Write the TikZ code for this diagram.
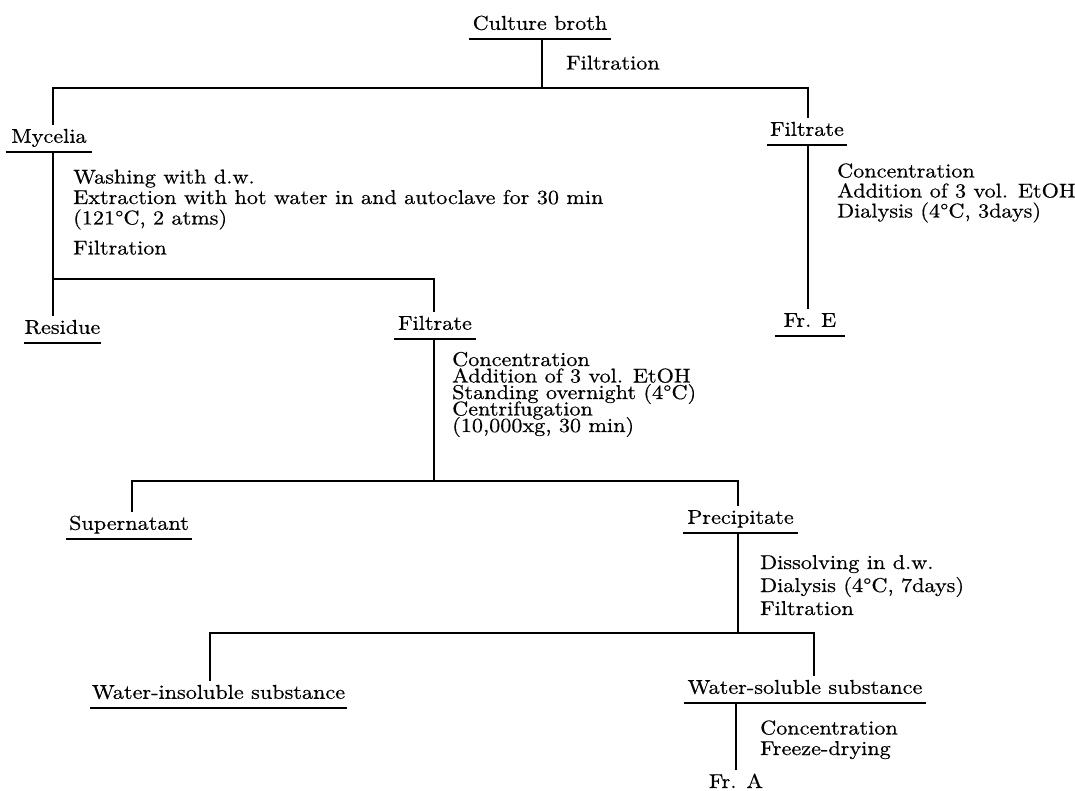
\documentclass[tikz,border=0pt]{standalone}
\usepackage{fontspec}
\setmainfont{lmroman10-regular.otf}[FakeStretch=1.11, FakeBold=0.5]
\usepackage{tikz}
\newcommand\notefont[1]{\fontsize{20}{#1}\selectfont\lineskiplimit=-50pt\relax}
\tikzset{
  lbl/.style={inner sep=0pt, text height=18pt, text depth=9pt, anchor=south,
              font=\fontsize{20}{24}\selectfont},
  stepnote/.style={inner sep=0pt, anchor=base west, align=left},
  conn/.style={line width=1.8pt},
  uline/.style={line width=1.6pt}
}
\begin{document}
\begin{tikzpicture}[x=1pt,y=-1pt]
\useasboundingbox[fill=white] (0,0) rectangle (1075,791);

% labels (positioned by their underline)
\node[lbl, minimum width=142pt] (cb)  at (540,39)   {Culture broth};
\node[lbl, minimum width=86pt]  (my)  at (49,152)   {Mycelia};
\node[lbl, minimum width=80pt]  (f2)  at (807,145)  {Filtrate};
\node[lbl, minimum width=75pt]  (res) at (62.5,343) {Residue};
\node[lbl, minimum width=82pt]  (f1)  at (435,339)  {Filtrate};
\node[lbl, minimum width=70pt]  (fe)  at (810,336)  {Fr. E};
\node[lbl, minimum width=126pt] (sup) at (129,539)  {Supernatant};
\node[lbl, minimum width=115pt] (pre) at (740.5,533) {Precipitate};
\node[lbl, minimum width=257pt] (wi)  at (218.5,708) {Water-insoluble substance};
\node[lbl, minimum width=242pt] (ws)  at (805,703)  {Water-soluble substance};
\node[lbl, anchor=base] (fa) at (736,788) {Fr. A};

\foreach \n in {cb,my,f2,res,f1,fe,sup,pre,wi,ws}
  \draw[uline] (\n.south west) -- (\n.south east);

% step notes (base anchor = baseline of the last line)
\node[stepnote, font=\notefont{20}] (s0) at (566,69.5) {Filtration};
\node[stepnote, font=\notefont{20.5}] (s1) at (73,254.5)
  {Washing with d.w.\\
   Extraction with hot water in and autoclave for 30 min\\
   (121°C, 2 atms)\\[9.5pt]
   Filtration};
\node[stepnote, font=\notefont{20}] (s2) at (837,217.5)
  {Concentration\\
   Addition of 3 vol. EtOH\\
   Dialysis (4°C, 3days)};
\node[stepnote, font=\notefont{16.5}] (s3) at (452,432)
  {Concentration\\
   Addition of 3 vol. EtOH\\
   Standing overnight (4°C)\\
   Centrifugation\\
   (10,000xg, 30 min)};
\node[stepnote, font=\notefont{23}] (s4) at (760,615)
  {Dissolving in d.w.\\
   Dialysis (4°C, 7days)\\
   Filtration};
\node[stepnote, font=\notefont{20.5}] (s5) at (760,755)
  {Concentration\\
   Freeze-drying};

% junctions
\coordinate (j0) at (542,88);
\coordinate (a1) at (53,88);
\coordinate (a2) at (808,88);
\coordinate (b1) at (53,279);
\coordinate (b2) at (434,279);
\coordinate (c0) at (434,481);
\coordinate (c1) at (132,481);
\coordinate (c2) at (738,481);
\coordinate (d0) at (738,633);
\coordinate (d1) at (210,633);
\coordinate (d2) at (814,633);

% connectors
\draw[conn] (cb.south -| j0) -- (j0);
\draw[conn] (my.north -| a1) -- (a1) -- (a2) -- (f2.north -| a2);
\draw[conn] (my.south -| b1) -- (res.north -| b1);
\draw[conn] (b1) -- (b2) -- (f1.north -| b2);
\draw[conn] (f2.south -| a2) -- (fe.north -| a2);
\draw[conn] (f1.south -| c0) -- (c0);
\draw[conn] (sup.north -| c1) -- (c1) -- (c2) -- (pre.north -| c2);
\draw[conn] (pre.south -| d0) -- (d0);
\draw[conn] (wi.north -| d1) -- (d1) -- (d2) -- (ws.north -| d2);
\draw[conn] (ws.south -| fa) -- (fa.north);
\end{tikzpicture}
\end{document}
